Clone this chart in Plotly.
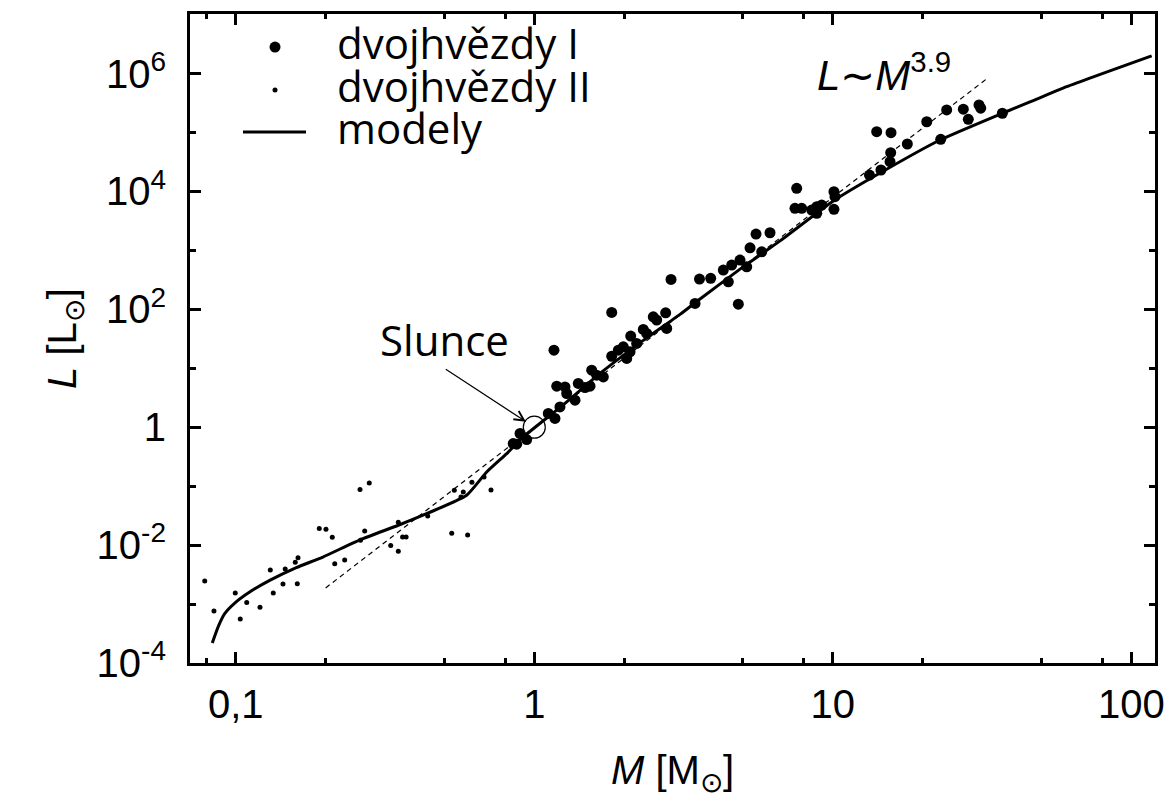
import plotly.graph_objects as go

# dvojhvězdy I (large dots): mass [M_sun], luminosity [L_sun]
m1 = [0.896, 0.873, 0.943, 0.850, 1.114, 1.173, 1.219, 1.189, 1.267, 1.284,
      1.369, 1.404, 1.479, 1.537, 1.557, 1.618, 1.703, 1.817, 1.912, 1.987,
      2.040, 2.093, 2.104, 2.203, 2.318, 2.380, 2.504, 2.571, 2.755, 2.777,
      1.164, 1.817, 2.871, 3.576, 3.899, 3.455, 4.467, 4.297, 4.585, 4.888,
      5.149, 4.825, 5.281, 5.531, 5.779, 6.161, 7.569, 7.470, 7.866, 8.500,
      8.835, 9.180, 8.835, 10.09, 10.17, 10.09, 13.27, 14.50, 15.55, 15.63,
      14.03, 15.67, 17.77, 20.64, 22.99, 24.07, 27.37, 28.44, 30.89, 31.30,
      36.98]
l1 = [0.782, 0.515, 0.618, 0.529, 1.71, 1.41, 2.21, 4.97, 4.83, 3.73,
      2.87, 5.52, 4.72, 4.97, 9.29, 7.64, 7.14, 16.0, 20.3, 23.1,
      14.7, 19.0, 35.1, 26.4, 45.6, 39.0, 74.6, 65.6, 87.3, 47.4,
      20.3, 88.6, 322, 326, 335, 126, 293, 463, 563, 684,
      527, 122.5, 1107, 1892, 947, 1991, 11300, 5160, 5160, 4830,
      5500, 5880, 4250, 9890, 8130, 4970, 18970, 23100, 31900, 45400,
      103000, 99300, 63800, 152000, 76700, 241000, 248000, 167000, 293000, 258000,
      212000]

# dvojhvězdy II (small dots)
m2 = [0.0787, 0.0845, 0.0996, 0.1035, 0.1088, 0.1205, 0.1305, 0.1335, 0.1439, 0.1464,
      0.1582, 0.1616, 0.1607, 0.1904, 0.2005, 0.2105, 0.2145, 0.2316, 0.2607, 0.280,
      0.2703, 0.2617, 0.3303, 0.3503, 0.3503, 0.362, 0.372, 0.4394, 0.5289, 0.598,
      0.5395, 0.5783, 0.5681, 0.6181, 0.6785, 0.716]
l2 = [0.00246, 0.00076, 0.00154, 0.00056, 0.00106, 0.00088, 0.00378, 0.00154, 0.00219, 0.00393,
      0.0051, 0.0061, 0.00222, 0.0191, 0.0185, 0.01355, 0.00485, 0.00558, 0.0875, 0.113,
      0.0173, 0.01206, 0.0098, 0.00785, 0.0244, 0.01373, 0.01373, 0.0312, 0.01585, 0.01483,
      0.0851, 0.0797, 0.0656, 0.1164, 0.1432, 0.0861]

# modely (solid curve)
model_m = [0.0834, 0.0872, 0.0918, 0.0992, 0.1113, 0.1299, 0.1595, 0.1959, 0.2607, 0.3503,
           0.4415, 0.5935, 0.6927, 0.8083, 0.9186, 1.25, 1.660, 2.26, 3.077, 3.591,
           4.89, 6.656, 10.04, 14.39, 22.87, 36.98, 45.78, 60.75, 117.0]
model_l = [2.18e-4, 4.07e-4, 6.87e-4, 1.04e-3, 1.60e-3, 2.52e-3, 4.15e-3, 6.28e-3, 0.0123, 0.0217,
           0.0351, 0.0701, 0.174, 0.357, 0.684, 2.4, 8.17, 27, 82, 150,
           480, 1450, 6900, 20500, 74600, 212000, 330000, 600000, 2.0e6]

# L ~ M^3.9 relation
fit_exp = 3.9
fit_m = [0.2, 33.0]
fit_l = [m ** fit_exp for m in fit_m]

# Sun
sun_m = [1.0]
sun_l = [1.0]

# axis ticks
x_major = [0.1, 1, 10, 100]
x_major_text = ["0,1", "1", "10", "100"]
x_minor = [0.08, 0.2, 0.5, 0.8, 2, 5, 8, 20, 50, 80]
y_major = [1e-4, 1e-2, 1, 1e2, 1e4, 1e6]
y_major_text = ["10<sup>-4</sup>", "10<sup>-2</sup>", "1", "10<sup>2</sup>",
                "10<sup>4</sup>", "10<sup>6</sup>"]
y_minor = [1e-3, 1e-1, 10, 1e3, 1e5]

# legend entries
legend_labels = ["dvojhvězdy I", "dvojhvězdy II", "modely"]

TICKFONT = "Liberation Sans, Arial, sans-serif"
TEXTFONT = "Open Sans, sans-serif"

fig = go.Figure()
fig.add_trace(go.Scatter(x=fit_m, y=fit_l, mode="lines", showlegend=False,
                         line=dict(color="black", width=1.2, dash="5px,4px"), hoverinfo="skip"))
fig.add_trace(go.Scatter(x=model_m, y=model_l, mode="lines", name=legend_labels[2], showlegend=False,
                         line=dict(color="black", width=3, shape="spline", smoothing=0.5)))
fig.add_trace(go.Scatter(x=m2, y=l2, mode="markers", name=legend_labels[1], showlegend=False,
                         marker=dict(color="black", size=5)))
fig.add_trace(go.Scatter(x=m1, y=l1, mode="markers", name=legend_labels[0], showlegend=False,
                         marker=dict(color="black", size=11)))
fig.add_trace(go.Scatter(x=sun_m, y=sun_l, mode="markers", showlegend=False,
                         marker=dict(symbol="circle-open", color="black", size=22,
                                     line=dict(width=1.2, color="black"))))

axis_common = dict(type="log", showgrid=False, zeroline=False, showline=True,
                   linecolor="black", linewidth=3, mirror="allticks",
                   ticks="inside", tickcolor="black", tickwidth=2.5,
                   tickfont=dict(family=TICKFONT, size=40, color="black"))

fig.update_xaxes(**axis_common, range=[-1.1534, 2.0794], tickvals=x_major, ticktext=x_major_text,
                 ticklen=11, ticklabelstandoff=4,
                 minor=dict(tickvals=x_minor, ticks="inside", ticklen=5, tickwidth=2.5, tickcolor="black"),
                 title=dict(text="<i>M</i> [M<sub>⊙</sub>]", standoff=31,
                            font=dict(family=TICKFONT, size=40, color="black")))
fig.update_yaxes(**axis_common, range=[-4, 7.01], tickvals=y_major, ticktext=y_major_text,
                 ticklen=11, ticklabelstandoff=13,
                 minor=dict(tickvals=y_minor, ticks="inside", ticklen=6, tickwidth=2.5, tickcolor="black"),
                 title=dict(text="<i>L</i> [L<sub>⊙</sub>]", standoff=8,
                            font=dict(family=TICKFONT, size=40, color="black")))

fig.add_annotation(x=-0.30, y=1.49, xref="x", yref="y", text="Slunce", showarrow=False,
                   font=dict(family=TEXTFONT, size=42, color="black"))
fig.add_annotation(x=0, y=0, xref="x", yref="y", text="", showarrow=True,
                   ax=-90, ay=-59, arrowhead=5, arrowsize=1.6, arrowwidth=1.2,
                   arrowcolor="black", standoff=10)
fig.add_annotation(x=1.1715, y=6.03, xref="x", yref="y",
                   text="<i>L</i>∼<i>M</i><sup>3.9</sup>", showarrow=False,
                   font=dict(family=TICKFONT, size=42, color="black"))

# legend (drawn in plot-area paper coordinates)
row_y = [0.949, 0.883, 0.818]
sym_x = 0.0881
text_x = 0.150
fig.add_shape(type="circle", xref="paper", yref="paper", xsizemode="pixel", ysizemode="pixel",
              xanchor=sym_x, yanchor=row_y[0], x0=-5.5, x1=5.5, y0=-5.5, y1=5.5,
              fillcolor="black", line=dict(width=0))
fig.add_shape(type="circle", xref="paper", yref="paper", xsizemode="pixel", ysizemode="pixel",
              xanchor=sym_x, yanchor=row_y[1], x0=-2.5, x1=2.5, y0=-2.5, y1=2.5,
              fillcolor="black", line=dict(width=0))
fig.add_shape(type="line", xref="paper", yref="paper", x0=0.0549, x1=0.1202,
              y0=row_y[2], y1=row_y[2], line=dict(color="black", width=3))
for lab, ry in zip(legend_labels, row_y):
    fig.add_annotation(x=text_x, y=ry + 0.007, xref="paper", yref="paper", text=lab,
                       showarrow=False, xanchor="left", yanchor="middle",
                       font=dict(family=TEXTFONT, size=42, color="black"))

fig.update_layout(
    width=1176, height=799,
    margin=dict(l=190, r=21, t=14, b=136),
    paper_bgcolor="white", plot_bgcolor="white",
    showlegend=False,
)

fig.write_html("out.html")
